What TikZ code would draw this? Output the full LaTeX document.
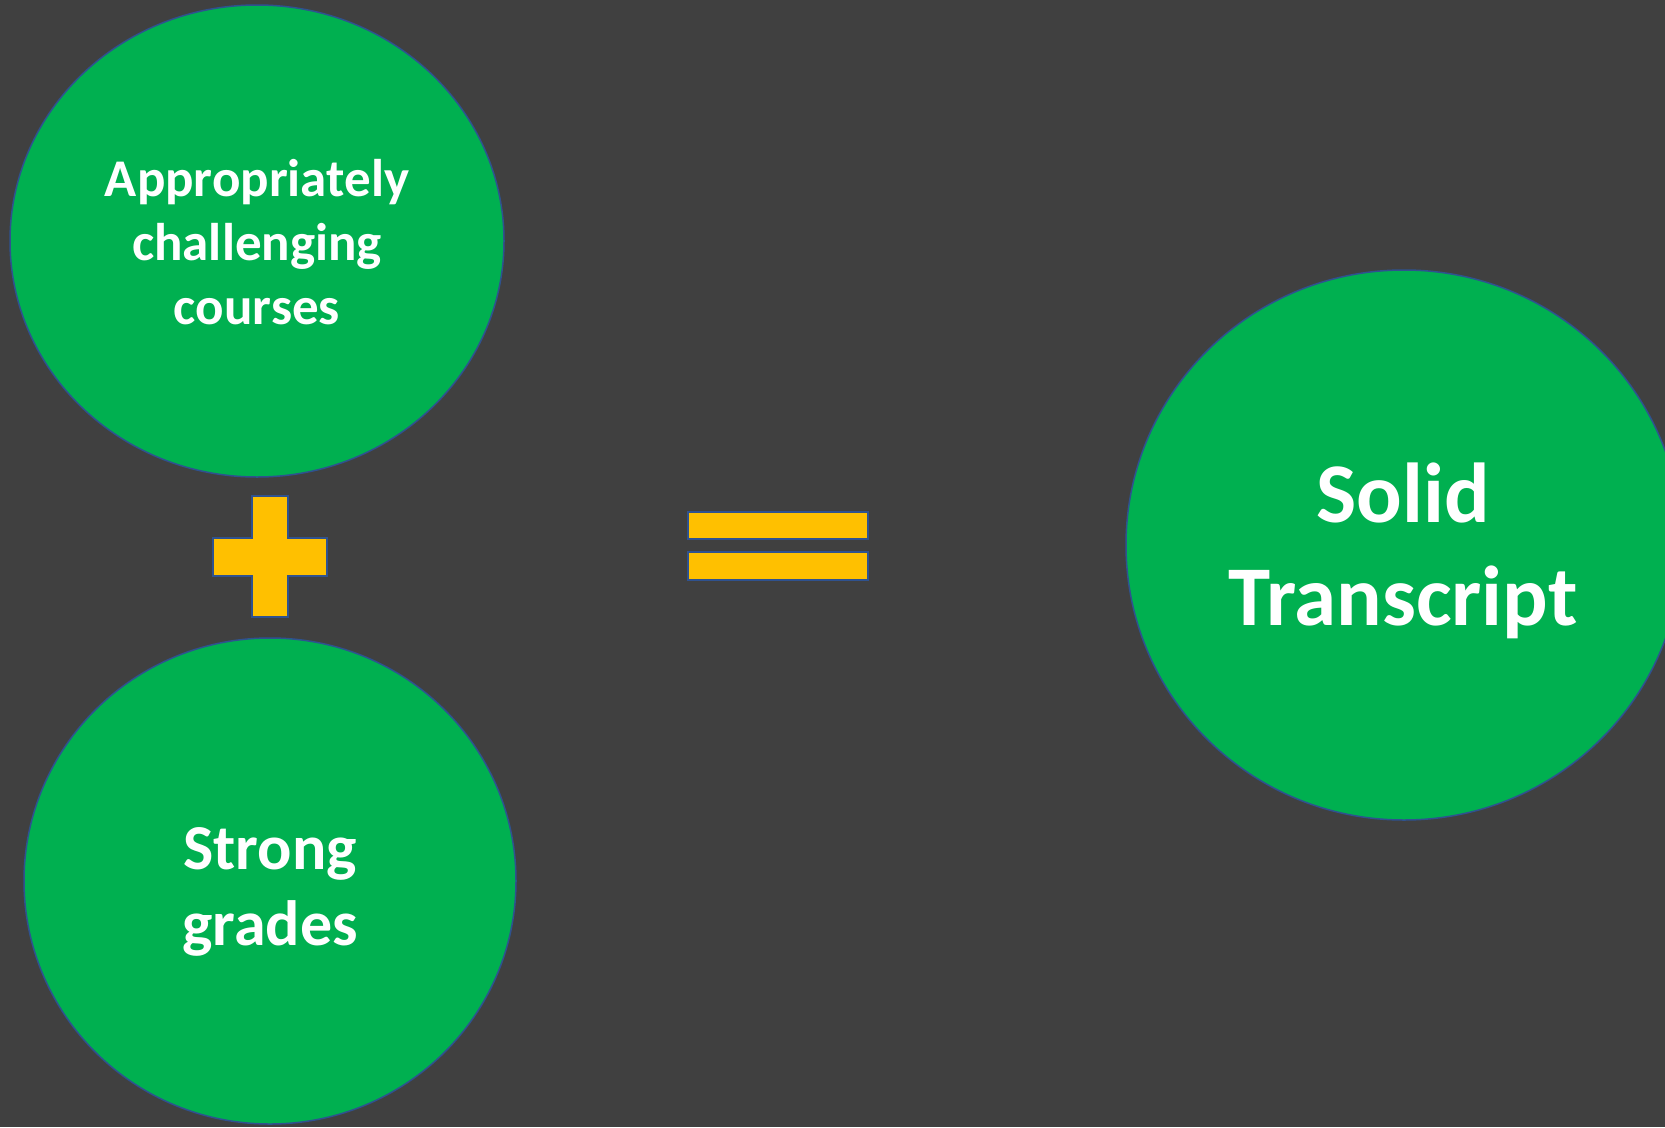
\documentclass[tikz,border=0pt]{standalone}
\usepackage{fontspec}
\setmainfont{Carlito}
\usetikzlibrary{shapes.geometric}
\definecolor{slate}{HTML}{404040}
\definecolor{leaf}{HTML}{00B050}
\definecolor{gold}{HTML}{FFC000}
\definecolor{rim}{HTML}{2F528F}
\tikzset{
	blob/.style={ellipse, fill=leaf, draw=rim, line width=1.5pt, inner sep=0pt},
	words/.style={text=white, align=center, inner sep=0pt},
	bar/.style={fill=gold, draw=rim, line width=2.5pt}
}
\begin{document}
\begin{tikzpicture}[x=1pt, y=-1pt]
	\fill[slate] (0, 0) rectangle (1665, 1127);
	\useasboundingbox (0, 0) rectangle (1665, 1127);
	\clip (0, 0) rectangle (1665, 1127);
	% the three circles
	\node[blob, minimum width=494pt, minimum height=472pt] (courses) at (257, 241) {};
	\node[blob, minimum width=492pt, minimum height=486pt] (grades) at (270, 881) {};
	\node[blob, minimum width=556pt, minimum height=550pt] (transcript) at (1404, 545) {};
	\node[words, font=\fontsize{53}{64}\selectfont\bfseries] (coursestxt) at (257, 242) {Appropriately\\challenging\\courses};
	\node[words, font=\fontsize{64}{76}\selectfont\bfseries] (gradestxt) at (270, 892) {Strong\\grades};
	\node[words, font=\fontsize{85}{103}\selectfont\bfseries] (transcripttxt) at (1403, 551) {Solid\\Transcript};
	% plus and equals
	\draw[bar] (252, 496) -- (288, 496) -- (288, 538) -- (327, 538) -- (327, 576) -- (288, 576)
		-- (288, 617) -- (252, 617) -- (252, 576) -- (213, 576) -- (213, 538) -- (252, 538) -- cycle;
	\draw[bar] (688, 512) rectangle (868, 539);
	\draw[bar] (688, 552) rectangle (868, 580);
\end{tikzpicture}
\end{document}
